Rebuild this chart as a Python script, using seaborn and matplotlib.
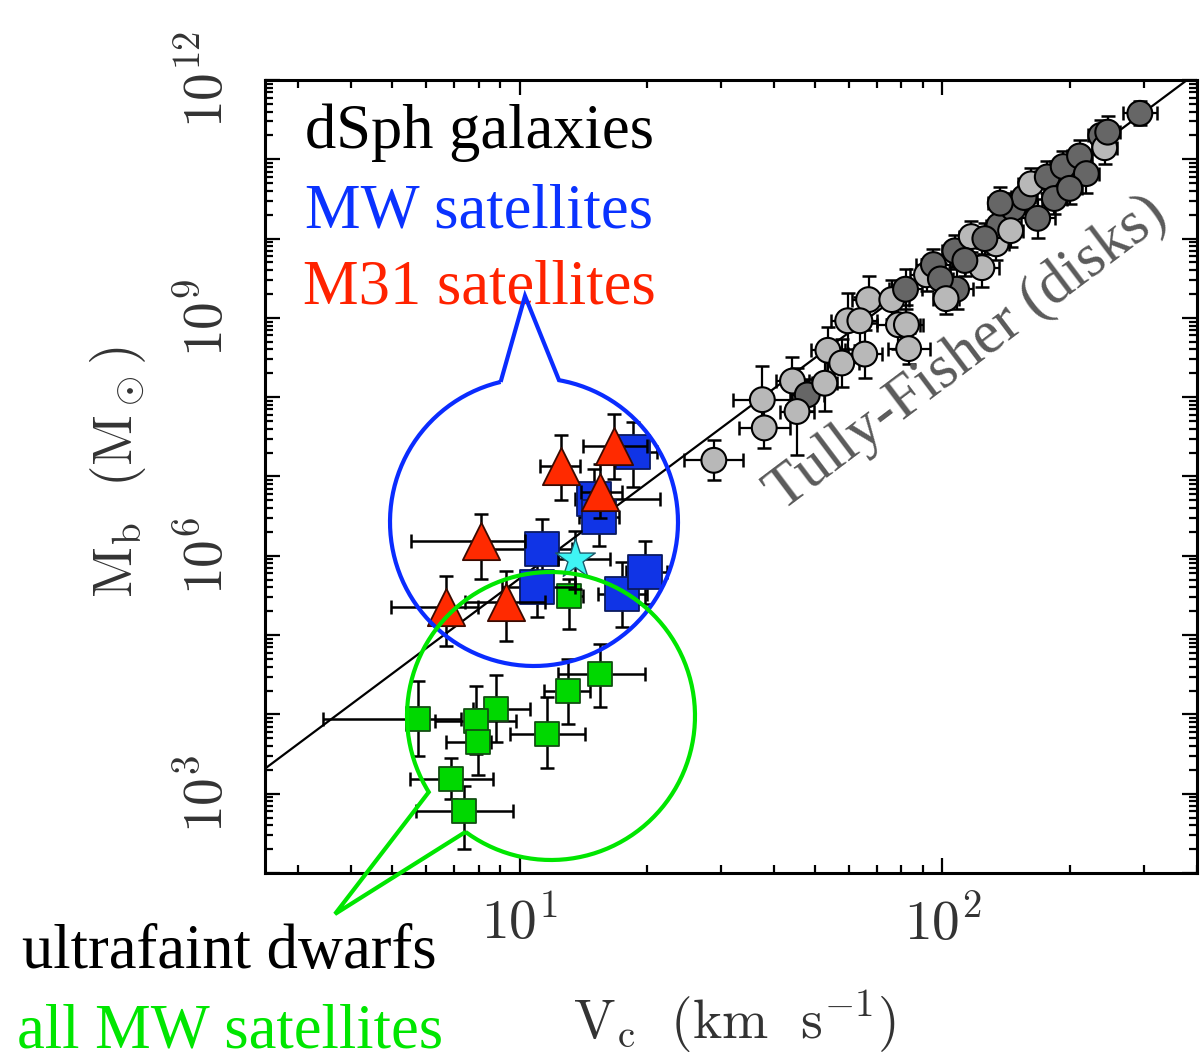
import numpy as np
import pandas as pd
import matplotlib
matplotlib.use("Agg")
import matplotlib.pyplot as plt
import seaborn as sns
from matplotlib.path import Path
from matplotlib.patches import PathPatch
from matplotlib.ticker import LogLocator, FuncFormatter, NullFormatter

# ---------------------------------------------------------------- data
# Disk galaxies (baryonic Tully-Fisher sample)
disk_v = [28.8, 37.5, 37.9, 44.2, 47.9, 45.3, 52.7, 53.6, 57.8, 65.5, 66.9, 59.7,
          63.8, 78.7, 82.2, 83.2, 75.9, 81.8, 91.7, 95.2, 108, 107, 117, 124, 134,
          136, 147, 156, 168, 162, 177, 193, 211, 219, 237, 242, 246, 293, 98.9,
          113, 126, 145, 184, 200, 102, 137]
disk_m = [1.6e7, 9.3e7, 4.1e7, 1.6e8, 1.07e8, 6.6e7, 1.5e8, 3.9e8, 2.7e8, 3.5e8,
          1.7e9, 9.2e8, 9.2e8, 8.2e8, 8.2e8, 4.1e8, 1.7e9, 2.3e9, 3.5e9, 4.7e9,
          2.3e9, 7.0e9, 1.06e10, 4.3e9, 8.6e9, 1.46e10, 2.4e10, 3.3e10, 1.8e10,
          4.9e10, 6.0e10, 8.1e10, 1.1e11, 6.6e10, 2.0e11, 1.4e11, 2.2e11, 3.8e11,
          3.1e9, 5.3e9, 1.0e10, 1.26e10, 3.2e10, 4.3e10, 1.75e9, 2.8e10]
disk_m_err_dex = [0.25, 0.42, 0.25, 0.30, 0.20, 0.55, 0.35, 0.30, 0.30, 0.30, 0.30,
                  0.35, 0.30, 0.30, 0.25, 0.20, 0.25, 0.25, 0.20, 0.20, 0.25, 0.20,
                  0.20, 0.25, 0.20, 0.20, 0.20, 0.20, 0.25, 0.20, 0.20, 0.20, 0.20,
                  0.25, 0.20, 0.20, 0.20, 0.15, 0.20, 0.20, 0.20, 0.20, 0.20, 0.20,
                  0.20, 0.20]
disk_v_err_dex = [0.07, 0.07, 0.06, 0.04, 0.04, 0.04, 0.03, 0.04, 0.04, 0.04, 0.04,
                  0.04, 0.04, 0.05, 0.04, 0.05, 0.04, 0.04, 0.04, 0.04, 0.04, 0.03,
                  0.03, 0.04, 0.03, 0.03, 0.03, 0.03, 0.04, 0.03, 0.03, 0.03, 0.03,
                  0.03, 0.03, 0.03, 0.03, 0.04, 0.03, 0.03, 0.03, 0.03, 0.03, 0.03,
                  0.03, 0.03]
disk_shade = ["light", "light", "light", "light", "dark", "light", "light", "light",
              "light", "light", "light", "light", "light", "light", "light", "light",
              "light", "dark", "light", "dark", "dark", "dark", "light", "light",
              "light", "dark", "dark", "dark", "dark", "light", "dark", "dark",
              "dark", "dark", "dark", "light", "dark", "dark", "dark", "dark",
              "dark", "light", "dark", "dark", "light", "dark"]

# Milky Way classical dSph satellites
mw_v = [18.5, 15.0, 15.4, 11.3, 11.0, 17.5, 19.8]
mw_v_lo = [16.6, 13.5, 13.8, 8.4, 9.1, 15.3, 17.9]
mw_v_hi = [21.1, 21.5, 17.2, 13.3, 13.5, 20.0, 22.3]
mw_m = [2.06e7, 5.2e6, 3.1e6, 1.23e6, 4.1e5, 3.3e5, 6.3e5]
mw_m_lo = [7.4e6, 2.2e6, 1.34e6, 5.1e5, 1.7e5, 1.28e5, 2.5e5]
mw_m_hi = [4.9e7, 1.25e7, 7.0e6, 2.9e6, 9.2e5, 8.4e5, 1.55e6]

# M31 dSph satellites
m31_v = [16.7, 12.5, 15.5, 8.09, 6.70, 9.27]
m31_v_lo = [14.1, 11.2, 14.0, 5.55, 4.97, 7.43]
m31_v_hi = [20.0, 13.9, 17.5, 10.3, 7.96, 11.5]
m31_m = [2.4e7, 1.37e7, 6.4e6, 1.55e6, 2.28e5, 2.64e5]
m31_m_lo = [9.4e6, 5.0e6, 3.0e6, 5.1e5, 7.3e4, 8.5e4]
m31_m_hi = [6.2e7, 3.3e7, 1.45e7, 3.4e6, 5.6e5, 6.5e5]

# Isolated object marked with a star
star_v = [13.5]
star_v_lo = [12.3]
star_v_hi = [16.4]
star_m = [9.2e5]
star_m_lo = [3.8e5]
star_m_hi = [2.07e6]

# Ultrafaint dwarfs
uf_v = [13.1, 15.5, 13.0, 5.75, 8.79, 7.88, 7.96, 11.6, 6.88, 7.38]
uf_v_lo = [12.3, 12.3, 11.4, 3.43, 7.75, 6.31, 6.70, 9.47, 5.51, 5.69]
uf_v_hi = [14.1, 19.8, 14.7, 7.26, 10.6, 9.79, 8.55, 14.3, 8.63, 9.63]
uf_m = [3.1e5, 3.26e4, 1.99e4, 8.8e3, 1.18e4, 8.3e3, 4.5e3, 5.7e3, 1.55e3, 611]
uf_m_lo = [1.2e5, 1.25e4, 7.6e3, 3.0e3, 4.5e3, 3.2e3, 1.7e3, 2.1e3, 865, 202]
uf_m_hi = [5.1e5, 7.8e4, 5.0e4, 2.6e4, 3.1e4, 2.3e4, 1.18e4, 1.67e4, 2.8e3, 1.26e3]

# Tully-Fisher relation (M ~ V^4) end points
tf_v = [2.5, 400.0]
tf_m = [2.07e3, 1.24e12]

x_limits = (2.5, 400.0)
y_limits = (1e2, 1e12)

# ---------------------------------------------------------------- style
sns.set_theme(style="ticks")
plt.rcParams["font.family"] = ["Liberation Serif", "DejaVu Serif"]
plt.rcParams["mathtext.fontset"] = "cm"

W, H = 1200, 1064
fig = plt.figure(figsize=(W / 100, H / 100), dpi=100)
fig.patch.set_facecolor("white")
ax = fig.add_axes([265 / W, 1 - 873 / H, 932 / W, 793 / H])
ax.set_facecolor("white")
ax.set_xscale("log")
ax.set_yscale("log")
ax.set_xlim(*x_limits)
ax.set_ylim(*y_limits)

# Tully-Fisher line
sns.lineplot(x=tf_v, y=tf_m, ax=ax, color="black", linewidth=1.6, zorder=2,
             estimator=None, sort=False)

# ---------------------------------------------------------------- disk galaxies
disk = pd.DataFrame({"V": disk_v, "M": disk_m, "dy": disk_m_err_dex,
                     "dx": disk_v_err_dex, "shade": disk_shade})
ax.errorbar(disk["V"], disk["M"],
            yerr=[disk["M"] * (1 - 10 ** -disk["dy"]), disk["M"] * (10 ** disk["dy"] - 1)],
            xerr=[disk["V"] * (1 - 10 ** -disk["dx"]), disk["V"] * (10 ** disk["dx"] - 1)],
            fmt="none", ecolor="black", elinewidth=1.6, capsize=5, capthick=1.8,
            zorder=3)
sns.scatterplot(data=disk, x="V", y="M", hue="shade",
                palette={"light": "#b8b8b8", "dark": "#666666"},
                marker="o", s=320, edgecolor="black", linewidth=1.5,
                legend=False, ax=ax, zorder=4)


def error_bars(v, vlo, vhi, m, mlo, mhi, z):
    v, vlo, vhi = map(np.asarray, (v, vlo, vhi))
    m, mlo, mhi = map(np.asarray, (m, mlo, mhi))
    ax.errorbar(v, m, xerr=[v - vlo, vhi - v], yerr=[m - mlo, mhi - m],
                fmt="none", ecolor="black", elinewidth=1.8, capsize=5,
                capthick=1.8, zorder=z)


# ---------------------------------------------------------------- dwarfs
uf = pd.DataFrame({"V": uf_v, "M": uf_m})
error_bars(uf_v, uf_v_lo, uf_v_hi, uf_m, uf_m_lo, uf_m_hi, 5)
sns.scatterplot(data=uf, x="V", y="M", marker="s", s=320, color="#00d800",
                edgecolor="#124f12", linewidth=1.3, ax=ax, zorder=6)

mw = pd.DataFrame({"V": mw_v, "M": mw_m})
error_bars(mw_v, mw_v_lo, mw_v_hi, mw_m, mw_m_lo, mw_m_hi, 7)
sns.scatterplot(data=mw, x="V", y="M", marker="s", s=600, color="#1034e6",
                edgecolor="#0a1a60", linewidth=1.3, ax=ax, zorder=8)

star = pd.DataFrame({"V": star_v, "M": star_m})
error_bars(star_v, star_v_lo, star_v_hi, star_m, star_m_lo, star_m_hi, 9)
sns.scatterplot(data=star, x="V", y="M", marker="*", s=900, color="#3ff4f4",
                edgecolor="#1a5a6a", linewidth=1.0, ax=ax, zorder=10)

m31 = pd.DataFrame({"V": m31_v, "M": m31_m})
error_bars(m31_v, m31_v_lo, m31_v_hi, m31_m, m31_m_lo, m31_m_hi, 11)
sns.scatterplot(data=m31, x="V", y="M", marker="^", s=720, color="#ff2a00",
                edgecolor="#3a0a00", linewidth=1.3, ax=ax, zorder=12)

# ---------------------------------------------------------------- axes styling
for side in ("top", "right", "bottom", "left"):
    ax.spines[side].set_visible(True)
    ax.spines[side].set_linewidth(2.2)
    ax.spines[side].set_color("black")

ax.xaxis.set_major_locator(LogLocator(base=10, numticks=10))
ax.xaxis.set_minor_locator(LogLocator(base=10, subs=np.arange(2, 10), numticks=50))
ax.yaxis.set_major_locator(LogLocator(base=10, numticks=30))
ax.yaxis.set_minor_locator(LogLocator(base=10, subs=np.arange(2, 10), numticks=200))


def decade_label(val, pos, every=1):
    e = int(round(np.log10(val)))
    if e % every:
        return ""
    return r"$10^{%d}$" % e


ax.xaxis.set_major_formatter(FuncFormatter(lambda v, p: decade_label(v, p, 1)))
ax.yaxis.set_major_formatter(FuncFormatter(lambda v, p: decade_label(v, p, 3)))
ax.xaxis.set_minor_formatter(NullFormatter())
ax.yaxis.set_minor_formatter(NullFormatter())

ax.tick_params(which="both", direction="in", top=True, right=True,
               color="black", width=1.6)
ax.tick_params(which="major", length=11)
ax.tick_params(which="minor", length=6)
ax.tick_params(axis="x", which="major", labelsize=40, labelcolor="#333333", pad=18)
ax.tick_params(axis="y", which="major", labelsize=40, labelcolor="#333333", pad=22,
               labelrotation=90)
for lab in ax.get_yticklabels():
    lab.set_va("center")

ax.set_xlabel("")
ax.set_ylabel("")
fig.text(735 / W, 1 - 1022 / H, r"$\mathrm{V_c\ \ (km\ \ s^{-1})}$", fontsize=40,
         color="#333333", ha="center", va="center")
fig.text(118 / W, 1 - 472 / H, r"$\mathrm{M_b\ \ (M_\odot)}$", fontsize=40,
         color="#333333", ha="center", va="center", rotation=90)

# ---------------------------------------------------------------- annotations
fs = 45
fig.text(305 / W, 1 - 148 / H, "dSph galaxies", fontsize=fs, color="black",
         ha="left", va="baseline")
fig.text(305 / W, 1 - 227 / H, "MW satellites", fontsize=fs, color="#0a32ff",
         ha="left", va="baseline")
fig.text(303 / W, 1 - 303 / H, "M31 satellites", fontsize=fs, color="#ff2200",
         ha="left", va="baseline")
fig.text(22 / W, 1 - 968 / H, "ultrafaint dwarfs", fontsize=fs, color="black",
         ha="left", va="baseline")
fig.text(17 / W, 1 - 1047 / H, "all MW satellites", fontsize=fs, color="#00e600",
         ha="left", va="baseline")
fig.text(782 / W, 1 - 512 / H, "Tully-Fisher (disks)", fontsize=44, color="#5a5a5a",
         ha="left", va="baseline", rotation=37, rotation_mode="anchor", zorder=20)


def bubble(cx, cy, r, a_start, a_end, tip, color):
    """Circle outline with a wedge-shaped pointer, given in pixel units."""
    ang = np.radians(np.linspace(a_start, a_end, 240))
    px = cx + r * np.cos(ang)
    py = cy - r * np.sin(ang)
    pts = np.column_stack([np.r_[px, tip[0], px[0]], np.r_[py, tip[1], py[0]]])
    pts = np.column_stack([pts[:, 0] / W, 1 - pts[:, 1] / H])
    patch = PathPatch(Path(pts), facecolor="none", edgecolor=color, linewidth=3.0,
                      transform=fig.transFigure, zorder=30, joinstyle="miter")
    fig.add_artist(patch)


bubble(534, 522, 144, 103.4, 440.0, (525, 296), "#0a2cff")
bubble(551, 716, 144, 233.6, 571.9, (335, 914), "#00e600")

fig.savefig("out.png", dpi=100, facecolor="white")
